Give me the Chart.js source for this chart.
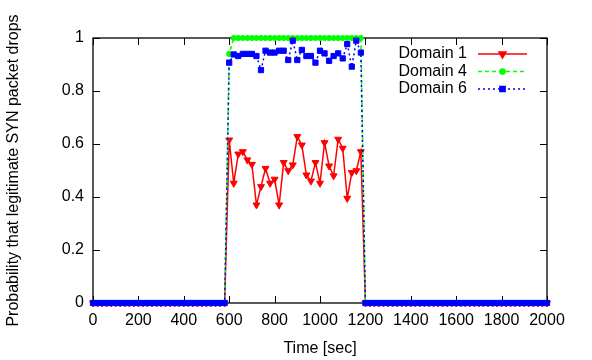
<!DOCTYPE html>
<html>
<head>
<meta charset="utf-8">
<script src="https://cdn.jsdelivr.net/npm/chart.js@4.4.1/dist/chart.umd.min.js"></script>
<style>
    html, body { margin: 0; padding: 0; background: #fff; }
    #wrap { width: 592px; height: 360px; position: relative; }
</style>
</head>
<body>
<div id="wrap"><canvas id="syn-chart"></canvas></div>
<script>
// sampling grid, one sample every 20 s
const timeSec = [];
for (let t = 0; t <= 2000; t += 20) timeSec.push(t);

// 0..580 s and 1200..2000 s : no attack
const idleBefore = [0,0,0,0,0,0,0,0,0,0,0,0,0,0,0,0,0,0,0,0,0,0,0,0,0,0,0,0,0,0];
const idleAfter = [0,0,0,0,0,0,0,0,0,0,0,0,0,0,0,0,0,0,0,0,0,0,0,0,0,0,0,0,0,0,0,0,0,0,0,0,0,0,0,0,0];

// 600..1180 s : attack period
const domain1Attack = [0.615, 0.452, 0.562, 0.571, 0.540, 0.523, 0.370, 0.439, 0.508, 0.452,
    0.467, 0.370, 0.530, 0.499, 0.521, 0.628, 0.596, 0.483, 0.460, 0.530,
    0.452, 0.605, 0.517, 0.480, 0.618, 0.584, 0.395, 0.492, 0.499, 0.571];
const domain4Attack = [0.94, 1, 1, 1, 1, 1, 1, 1, 1, 1,
    1, 1, 1, 1, 1, 1, 1, 1, 1, 1,
    1, 1, 1, 1, 1, 1, 1, 1, 1, 1];
const domain6Attack = [0.907, 0.938, 0.932, 0.940, 0.940, 0.940, 0.932, 0.879, 0.952, 0.945,
    0.945, 0.952, 0.952, 0.917, 0.990, 0.917, 0.955, 0.932, 0.932, 0.907,
    0.952, 0.942, 0.914, 0.932, 0.942, 0.923, 0.977, 0.892, 0.990, 0.945];

const xTicks = [0, 200, 400, 600, 800, 1000, 1200, 1400, 1600, 1800, 2000];
const yTicks = [0, 0.2, 0.4, 0.6, 0.8, 1];

const FONT = '"Liberation Sans", Arial, Helvetica, sans-serif';

const toPoints = (vals) => vals.map((v, i) => ({ x: timeSec[i], y: v }));

const series = [
    { label: "Domain 1", color: "#ff0000", dash: [], style: "triangle", rot: 180, r: 4,
      values: idleBefore.concat(domain1Attack, idleAfter), order: 3 },
    { label: "Domain 4", color: "#00ff00", dash: [4, 3], style: "circle", rot: 0, r: 2.6,
      values: idleBefore.concat(domain4Attack, idleAfter), order: 2 },
    { label: "Domain 6", color: "#0000ff", dash: [2, 3], style: "rect", rot: 0, r: 3.7,
      values: idleBefore.concat(domain6Attack, idleAfter), order: 1 },
];

// gnuplot-like frame with inward ticks on all sides
const frameTicks = {
    id: "frameTicks",
    beforeDatasetsDraw(chart) {
        const { ctx, chartArea: a, scales } = chart;
        ctx.save();
        ctx.strokeStyle = "#000";
        ctx.lineWidth = 1;
        ctx.beginPath();
        xTicks.forEach((v) => {
            const px = Math.round(scales.x.getPixelForValue(v)) + 0.5;
            ctx.moveTo(px, a.bottom); ctx.lineTo(px, a.bottom - 7);
            ctx.moveTo(px, a.top); ctx.lineTo(px, a.top + 7);
        });
        yTicks.forEach((v) => {
            const py = Math.round(scales.y.getPixelForValue(v)) + 0.5;
            ctx.moveTo(a.left, py); ctx.lineTo(a.left + 7, py);
            ctx.moveTo(a.right, py); ctx.lineTo(a.right - 7, py);
        });
        ctx.stroke();
        ctx.lineWidth = 1.3;
        ctx.strokeRect(a.left, a.top, a.right - a.left, a.bottom - a.top);
        ctx.restore();
    },
};

// legend: text on the left, line sample on the right
const keyBox = {
    id: "keyBox",
    afterDraw(chart) {
        const ctx = chart.ctx;
        ctx.save();
        ctx.font = "16px " + FONT;
        ctx.textAlign = "right";
        ctx.textBaseline = "middle";
        series.forEach((s, i) => {
            const y = 54 + i * 17.5;
            ctx.fillStyle = "#000";
            ctx.fillText(s.label, 467, y);
            ctx.strokeStyle = s.color;
            ctx.fillStyle = s.color;
            ctx.lineWidth = 1.5;
            ctx.setLineDash(s.dash);
            ctx.beginPath();
            ctx.moveTo(478, y);
            ctx.lineTo(527, y);
            ctx.stroke();
            ctx.setLineDash([]);
            Chart.helpers.drawPoint(ctx, { pointStyle: s.style, rotation: s.rot, radius: s.r, borderWidth: 1 }, 502.5, y);
        });
        ctx.restore();
    },
};

new Chart(document.querySelector("#syn-chart"), {
    type: "line",
    data: {
        datasets: series.map((s) => ({
            label: s.label,
            data: toPoints(s.values),
            borderColor: s.color,
            backgroundColor: s.color,
            borderWidth: 1.5,
            borderDash: s.dash,
            pointStyle: s.style,
            pointRotation: s.rot,
            pointRadius: s.r,
            pointBorderWidth: 1,
            tension: 0,
            clip: false,
            order: s.order,
        })),
    },
    options: {
        responsive: true,
        maintainAspectRatio: false,
        animation: false,
        events: [],
        layout: { padding: { top: 38, right: 45, left: 0, bottom: 0 } },
        plugins: { legend: { display: false }, tooltip: { enabled: false } },
        scales: {
            x: {
                type: "linear",
                min: 0,
                max: 2000,
                afterFit: (scale) => { scale.height = 57; },
                afterBuildTicks: (scale) => { scale.ticks = xTicks.map((v) => ({ value: v })); },
                grid: { display: false, drawTicks: false },
                border: { display: false },
                ticks: { color: "#000", padding: 8, maxRotation: 0, font: { family: FONT, size: 16 },
                         callback: (v) => String(v) },
                title: { display: true, text: "Time [sec]", color: "#000", padding: { top: 0, bottom: 2 },
                         font: { family: FONT, size: 16 } },
            },
            y: {
                min: 0,
                max: 1,
                afterFit: (scale) => { scale.width = 93; },
                afterBuildTicks: (scale) => { scale.ticks = yTicks.map((v) => ({ value: v })); },
                grid: { display: false, drawTicks: false },
                border: { display: false },
                ticks: { color: "#000", padding: 9, font: { family: FONT, size: 16 },
                         callback: (v) => String(+v.toFixed(1)) },
                title: { display: true, text: "Probability that legitimate SYN packet drops", color: "#000",
                         padding: { top: 4, bottom: 0 }, font: { family: FONT, size: 16 } },
            },
        },
    },
    plugins: [frameTicks, keyBox],
});
</script>
</body>
</html>
